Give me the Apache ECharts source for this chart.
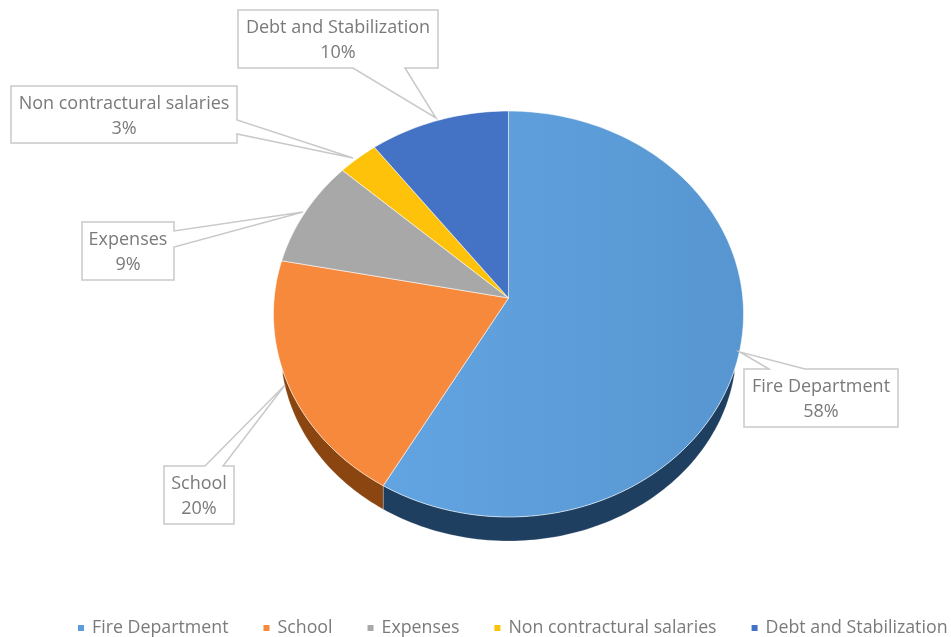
<!DOCTYPE html>
<html><head><meta charset="utf-8">
<style>html,body{margin:0;padding:0;background:#fff}#c{width:951px;height:637px}</style>
<script src="https://cdn.jsdelivr.net/npm/echarts@6/dist/echarts.min.js"></script>
</head><body><div id="c"></div>
<script>
const categories = ["Fire Department","School","Expenses","Non contractural salaries","Debt and Stabilization"];
const values = [58.3,19.7,8.6,3.0,10.4];
const colors = ["#5C9CD9","#F6893B","#A8A8A8","#FFC20A","#4472C4"];
const sideColors = ["#1F3F60","#8A4510","#666666","#997300","#264478"];
// label boxes: x0,y0,x1,y1, then callout base start, tip, base end
const boxes = [
 {r:[744,369,898,427], path:[[769,369],[740,352],[805,369]], edge:'top'},
 {r:[164,466,234,524], path:[[205,466],[285,385],[223,466]], edge:'top'},
 {r:[82,222,174,280], path:[[174,231],[303,212],[174,247]], edge:'right'},
 {r:[11,86,237,143], path:[[237,120],[353,158],[237,134]], edge:'right'},
 {r:[238,10,438,68], path:[[353,68],[436,118],[405,68]], edge:'bottom'}
];
const total = values.reduce((a,b)=>a+b,0);
const AX=234.3, BY=201.7, K=0.0788, APEX=[508.5,298];
const bottomEll={cx:508.5,cy:348,rx:228,ry:193};
const rim=a=>{ // a: clockwise angle from 12 o'clock, perspective projected circle
  const u=Math.sin(a), v=-Math.cos(a), w=1-K*v;
  return [APEX[0]+AX*u/w, APEX[1]+BY*v/w];
};
function boxPath(b){
  const [x0,y0,x1,y1]=b.r, p=b.path;
  if(b.edge==='top') return [[x0,y0],...p,[x1,y0],[x1,y1],[x0,y1]];
  if(b.edge==='right') return [[x0,y0],[x1,y0],...p,[x1,y1],[x0,y1]];
  return [[x0,y0],[x1,y0],[x1,y1],...p.slice().reverse(),[x0,y1]];
}
const series=categories.map((name,i)=>({
  name,type:'custom',coordinateSystem:'none',
  itemStyle:{color:colors[i]},
  data:[[values[i]]],
  clip:false,silent:true,
  renderItem(params,api){
    const val=api.value(0);
    const before=values.slice(0,i).reduce((a,b)=>a+b,0);
    const a0=before/total*Math.PI*2, a1=(before+val)/total*Math.PI*2;
    const n=Math.max(8,Math.round(val*3));
    const top=[];
    for(let k=0;k<=n;k++) top.push(rim(a0+(a1-a0)*k/n));
    const kids=[];
    // side wall
    const front=[],back=[];
    top.forEach(p=>{
      const dx=(p[0]-bottomEll.cx)/bottomEll.rx;
      if(Math.abs(dx)<1){
        const y=bottomEll.cy+bottomEll.ry*Math.sqrt(1-dx*dx);
        if(y>p[1]&&p[1]>314){front.push(p);back.unshift([p[0],y]);}
      }
    });
    if(front.length>1) kids.push({type:'polygon',z2:1,shape:{points:front.concat(back)},style:{fill:sideColors[i],stroke:'rgba(255,255,255,0.35)',lineWidth:0.6}});
    // top face
    const fill=i===0?new echarts.graphic.LinearGradient(0,0,1,0,[{offset:0,color:'#62A4E2'},{offset:1,color:'#5796D0'}]):colors[i];
    kids.push({type:'polygon',z2:2,shape:{points:[APEX].concat(top)},style:{fill,stroke:'rgba(255,255,255,0.55)',lineWidth:1}});
    // callout
    const b=boxes[i], pct=Math.round(val/total*100)+'%';
    kids.push({type:'polygon',z2:3,shape:{points:boxPath(b)},style:{fill:'#fff',stroke:'#C9C9C9',lineWidth:1.5}});
    const cx=(b.r[0]+b.r[2])/2, cy=(b.r[1]+b.r[3])/2;
    const ts={fill:'#7A7A7A',fontFamily:'Open Sans',fontSize:18,align:'center',verticalAlign:'middle'};
    kids.push({type:'text',z2:4,style:Object.assign({},ts,{text:name,x:cx,y:cy-11})});
    kids.push({type:'text',z2:4,style:Object.assign({},ts,{text:pct,x:cx,y:cy+14})});
    return {type:'group',children:kids};
  }
}));
const chart=echarts.init(document.getElementById('c'),null,{renderer:'canvas'});
chart.setOption({
  animation:false,backgroundColor:'#fff',
  legend:{data:categories,orient:'horizontal',left:78,top:619,width:1000,icon:'rect',itemWidth:6,itemHeight:6,itemGap:35,padding:0,
    selectedMode:false,textStyle:{color:'#7A7A7A',fontFamily:'Open Sans',fontSize:17.8,padding:[0,0,0,3]}},
  series
});
</script></body></html>
